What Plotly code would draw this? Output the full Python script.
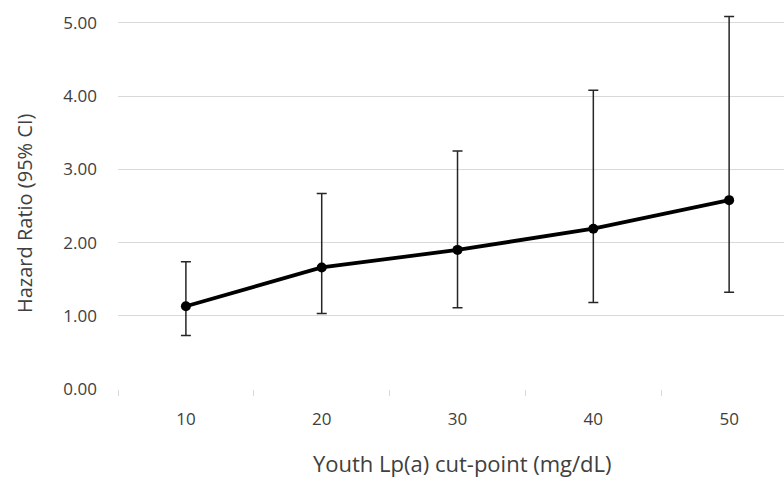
import plotly.graph_objects as go

cut_points = [10, 20, 30, 40, 50]
hazard_ratio = [1.13, 1.66, 1.90, 2.19, 2.58]
ci_upper = [1.74, 2.67, 3.25, 4.08, 5.09]
ci_lower = [0.73, 1.03, 1.11, 1.18, 1.32]
y_ticks = [0, 1, 2, 3, 4, 5]
y_tick_labels = ["0.00", "1.00", "2.00", "3.00", "4.00", "5.00"]
x_tick_labels = ["10", "20", "30", "40", "50"]
category_bounds = [5, 15, 25, 35, 45]

err_plus = [u - h for u, h in zip(ci_upper, hazard_ratio)]
err_minus = [h - l for h, l in zip(hazard_ratio, ci_lower)]

fig = go.Figure()
fig.add_trace(go.Scatter(
    x=cut_points, y=hazard_ratio, mode="lines+markers",
    line=dict(color="black", width=3.8),
    marker=dict(color="black", size=10),
    error_y=dict(type="data", symmetric=False, array=err_plus, arrayminus=err_minus,
                 color="#262626", thickness=1.5, width=5),
    cliponaxis=False, showlegend=False,
))

gray = "#d9d9d9"
txt = "#404040"
fig.update_layout(
    width=784, height=480,
    margin=dict(l=118, r=0, t=12, b=91),
    plot_bgcolor="white", paper_bgcolor="white",
    font=dict(family="Open Sans, Segoe UI, sans-serif", color=txt, size=17),
    xaxis=dict(
        range=[5, 54.04], tickvals=cut_points, ticktext=x_tick_labels,
        ticks="", showgrid=False, showline=False, zeroline=False,
        ticklabelstandoff=18,
        minor=dict(tickvals=category_bounds, ticks="outside", ticklen=6,
                   tickcolor=gray, tickwidth=1, showgrid=False),
    ),
    yaxis=dict(
        range=[0, 5.15], tickvals=y_ticks, ticktext=y_tick_labels,
        showgrid=True, gridcolor=gray, gridwidth=1.3, zeroline=False,
        showline=False, ticks="", ticklabelstandoff=20,
    ),
    annotations=[
        dict(text="Youth Lp(a) cut-point (mg/dL)", xref="paper", yref="paper",
             x=(462 - 118) / 666, y=-(463 - 389) / 377, xanchor="center", yanchor="middle",
             showarrow=False, font=dict(size=22, color=txt)),
        dict(text="Hazard Ratio (95% CI)", xref="paper", yref="paper", textangle=-90,
             x=-(118 - 25) / 666, y=(389 - 214) / 377, xanchor="center", yanchor="middle",
             showarrow=False, font=dict(size=20, color=txt)),
    ],
)
fig.write_html("out.html", config={"displayModeBar": False},
               post_script="document.body.style.margin='0';")
